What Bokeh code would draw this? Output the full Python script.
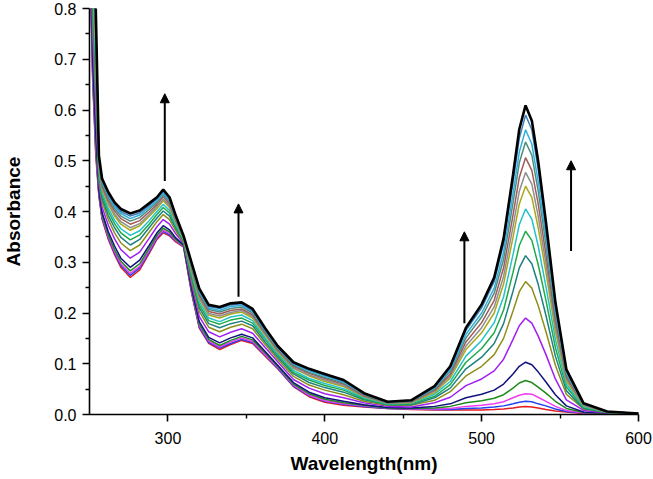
from bokeh.plotting import figure
from bokeh.models import FixedTicker, PrintfTickFormatter, Range1d, Arrow, NormalHead, ColumnDataSource
from bokeh.embed import file_html
from bokeh.resources import INLINE

wavelength = [250, 252, 254, 256, 258, 262, 266, 270, 276, 282, 288, 293, 297, 301, 305, 310, 315, 320, 326, 333,
              340, 347, 354, 362, 370, 380, 390, 400, 412, 425, 440, 455, 470, 480, 490, 500, 508, 514, 520, 524,
              528, 532, 536, 541, 547, 554, 565, 580, 600]

s00_red = [0.95, 0.66, 0.51, 0.43, 0.385, 0.345, 0.315, 0.29, 0.27, 0.285, 0.317, 0.345, 0.358, 0.352, 0.34, 0.33, 0.24, 0.17, 0.14, 0.128,
           0.138, 0.146, 0.14, 0.115, 0.09, 0.055, 0.035, 0.024, 0.018, 0.015, 0.012, 0.010, 0.009, 0.009, 0.009, 0.009, 0.010, 0.011, 0.013, 0.015,
           0.016, 0.015, 0.013, 0.010, 0.007, 0.005, 0.002, 0.002, 0.002]
s01_blue = [0.955, 0.669, 0.519, 0.432, 0.387, 0.348, 0.318, 0.294, 0.274, 0.289, 0.32, 0.348, 0.361, 0.354, 0.342, 0.331, 0.242, 0.172, 0.142, 0.131,
            0.140, 0.148, 0.142, 0.117, 0.091, 0.056, 0.037, 0.026, 0.020, 0.016, 0.012, 0.011, 0.010, 0.010, 0.012, 0.013, 0.015, 0.017, 0.021, 0.024,
            0.026, 0.025, 0.021, 0.017, 0.011, 0.006, 0.003, 0.002, 0.002]
s02_magenta = [0.959, 0.677, 0.527, 0.435, 0.390, 0.351, 0.321, 0.297, 0.278, 0.292, 0.323, 0.350, 0.363, 0.357, 0.343, 0.331, 0.244, 0.175, 0.145, 0.133,
               0.143, 0.151, 0.144, 0.118, 0.093, 0.058, 0.038, 0.027, 0.021, 0.017, 0.013, 0.011, 0.011, 0.012, 0.016, 0.018, 0.021, 0.025, 0.033, 0.038,
               0.041, 0.040, 0.034, 0.026, 0.016, 0.008, 0.003, 0.002, 0.002]
s03_green = [0.965, 0.689, 0.539, 0.438, 0.393, 0.354, 0.325, 0.302, 0.283, 0.297, 0.327, 0.353, 0.367, 0.360, 0.345, 0.332, 0.246, 0.178, 0.148, 0.136,
             0.146, 0.154, 0.147, 0.121, 0.095, 0.060, 0.041, 0.030, 0.023, 0.018, 0.013, 0.012, 0.013, 0.016, 0.023, 0.027, 0.032, 0.039, 0.052, 0.062,
             0.067, 0.063, 0.054, 0.042, 0.026, 0.012, 0.004, 0.002, 0.002]
s04_navy = [0.974, 0.706, 0.556, 0.443, 0.398, 0.360, 0.332, 0.308, 0.290, 0.304, 0.333, 0.358, 0.372, 0.364, 0.348, 0.334, 0.250, 0.183, 0.152, 0.141,
            0.151, 0.158, 0.151, 0.124, 0.097, 0.063, 0.044, 0.033, 0.026, 0.019, 0.014, 0.013, 0.016, 0.021, 0.033, 0.040, 0.048, 0.060, 0.080, 0.095,
            0.103, 0.098, 0.084, 0.064, 0.039, 0.017, 0.005, 0.003, 0.002]
s05_purple = [0.995, 0.747, 0.597, 0.454, 0.409, 0.373, 0.346, 0.325, 0.308, 0.320, 0.347, 0.370, 0.384, 0.375, 0.356, 0.337, 0.258, 0.193, 0.163, 0.153,
              0.162, 0.169, 0.160, 0.132, 0.104, 0.069, 0.052, 0.041, 0.033, 0.023, 0.016, 0.015, 0.023, 0.034, 0.057, 0.070, 0.086, 0.109, 0.148, 0.175,
              0.190, 0.180, 0.155, 0.118, 0.070, 0.029, 0.008, 0.003, 0.002]
s06_olive = [1.013, 0.782, 0.632, 0.464, 0.419, 0.384, 0.358, 0.338, 0.323, 0.334, 0.359, 0.380, 0.394, 0.384, 0.362, 0.339, 0.265, 0.203, 0.172, 0.163,
             0.172, 0.178, 0.169, 0.138, 0.109, 0.075, 0.058, 0.048, 0.039, 0.026, 0.018, 0.018, 0.028, 0.045, 0.076, 0.095, 0.118, 0.150, 0.204, 0.242,
             0.262, 0.249, 0.215, 0.163, 0.097, 0.040, 0.011, 0.004, 0.002]
s07_teal = [1.027, 0.808, 0.658, 0.471, 0.426, 0.392, 0.368, 0.349, 0.334, 0.345, 0.368, 0.387, 0.401, 0.391, 0.367, 0.341, 0.271, 0.210, 0.179, 0.171,
            0.179, 0.184, 0.175, 0.143, 0.113, 0.080, 0.063, 0.053, 0.044, 0.029, 0.019, 0.019, 0.033, 0.052, 0.090, 0.113, 0.140, 0.179, 0.243, 0.289,
            0.313, 0.297, 0.257, 0.195, 0.115, 0.047, 0.012, 0.004, 0.002]
s08_green = [1.039, 0.831, 0.681, 0.477, 0.432, 0.400, 0.376, 0.358, 0.344, 0.354, 0.375, 0.394, 0.408, 0.397, 0.371, 0.343, 0.275, 0.216, 0.185, 0.178,
             0.186, 0.190, 0.180, 0.148, 0.117, 0.083, 0.068, 0.057, 0.048, 0.031, 0.020, 0.021, 0.036, 0.059, 0.103, 0.130, 0.161, 0.206, 0.280, 0.333,
             0.361, 0.343, 0.296, 0.225, 0.132, 0.054, 0.014, 0.004, 0.002]
s09_turquoise = [1.049, 0.851, 0.701, 0.483, 0.438, 0.406, 0.383, 0.366, 0.353, 0.362, 0.382, 0.400, 0.414, 0.402, 0.374, 0.345, 0.280, 0.222, 0.190, 0.183,
                 0.192, 0.196, 0.185, 0.151, 0.120, 0.087, 0.071, 0.061, 0.051, 0.033, 0.021, 0.022, 0.040, 0.065, 0.115, 0.146, 0.181, 0.232, 0.315, 0.374,
                 0.405, 0.385, 0.333, 0.252, 0.148, 0.060, 0.015, 0.005, 0.002]
s10_yellowolive = [1.061, 0.875, 0.725, 0.489, 0.444, 0.414, 0.391, 0.375, 0.363, 0.372, 0.390, 0.406, 0.421, 0.408, 0.379, 0.346, 0.284, 0.228, 0.196, 0.190,
                   0.198, 0.202, 0.190, 0.156, 0.123, 0.091, 0.076, 0.065, 0.055, 0.035, 0.022, 0.023, 0.043, 0.072, 0.128, 0.161, 0.200, 0.257, 0.349, 0.415,
                   0.450, 0.428, 0.369, 0.280, 0.164, 0.066, 0.017, 0.005, 0.002]
s11_gray = [1.067, 0.886, 0.736, 0.492, 0.447, 0.418, 0.395, 0.380, 0.368, 0.376, 0.394, 0.410, 0.424, 0.411, 0.381, 0.347, 0.287, 0.231, 0.199, 0.194,
            0.201, 0.205, 0.193, 0.158, 0.125, 0.092, 0.078, 0.068, 0.057, 0.036, 0.022, 0.024, 0.046, 0.076, 0.135, 0.171, 0.212, 0.272, 0.370, 0.440,
            0.477, 0.454, 0.392, 0.297, 0.174, 0.070, 0.018, 0.005, 0.002]
s12_brown = [1.075, 0.901, 0.751, 0.496, 0.451, 0.422, 0.401, 0.386, 0.375, 0.382, 0.399, 0.414, 0.429, 0.415, 0.383, 0.348, 0.290, 0.235, 0.203, 0.198,
             0.205, 0.208, 0.196, 0.161, 0.127, 0.095, 0.081, 0.071, 0.060, 0.037, 0.023, 0.025, 0.048, 0.080, 0.143, 0.181, 0.225, 0.289, 0.393, 0.467,
             0.506, 0.481, 0.416, 0.315, 0.185, 0.074, 0.019, 0.005, 0.002]
s13_tealgray = [1.082, 0.915, 0.765, 0.500, 0.455, 0.427, 0.406, 0.391, 0.381, 0.388, 0.404, 0.418, 0.433, 0.419, 0.386, 0.349, 0.293, 0.239, 0.207, 0.202,
                0.209, 0.212, 0.200, 0.163, 0.130, 0.097, 0.083, 0.073, 0.062, 0.039, 0.023, 0.026, 0.050, 0.085, 0.151, 0.192, 0.239, 0.306, 0.417, 0.496,
                0.537, 0.511, 0.441, 0.335, 0.196, 0.079, 0.020, 0.006, 0.002]
s14_lightblue = [1.088, 0.927, 0.777, 0.504, 0.459, 0.431, 0.410, 0.396, 0.386, 0.393, 0.408, 0.421, 0.436, 0.422, 0.388, 0.350, 0.295, 0.242, 0.210, 0.205,
                 0.213, 0.215, 0.203, 0.166, 0.131, 0.099, 0.086, 0.076, 0.064, 0.040, 0.024, 0.027, 0.052, 0.088, 0.158, 0.200, 0.249, 0.320, 0.435, 0.517,
                 0.561, 0.533, 0.460, 0.349, 0.205, 0.082, 0.020, 0.006, 0.002]
s15_steel = [1.094, 0.938, 0.788, 0.507, 0.462, 0.434, 0.414, 0.400, 0.391, 0.397, 0.412, 0.425, 0.440, 0.425, 0.390, 0.351, 0.298, 0.245, 0.213, 0.209,
             0.216, 0.218, 0.205, 0.168, 0.133, 0.101, 0.088, 0.078, 0.066, 0.041, 0.025, 0.027, 0.054, 0.092, 0.166, 0.210, 0.262, 0.336, 0.457, 0.544,
             0.590, 0.561, 0.484, 0.367, 0.215, 0.086, 0.021, 0.006, 0.002]
s16_black = [1.10, 0.95, 0.80, 0.51, 0.465, 0.438, 0.418, 0.405, 0.396, 0.402, 0.416, 0.428, 0.443, 0.428, 0.392, 0.352, 0.30, 0.248, 0.216, 0.212,
             0.219, 0.221, 0.208, 0.17, 0.135, 0.103, 0.09, 0.08, 0.068, 0.042, 0.025, 0.028, 0.056, 0.095, 0.171, 0.217, 0.270, 0.347, 0.472, 0.562,
             0.609, 0.579, 0.500, 0.379, 0.222, 0.089, 0.022, 0.006, 0.002]

series = [s00_red, s01_blue, s02_magenta, s03_green, s04_navy, s05_purple, s06_olive, s07_teal, s08_green,
          s09_turquoise, s10_yellowolive, s11_gray, s12_brown, s13_tealgray, s14_lightblue, s15_steel, s16_black]
colors = ["#E41A1C", "#2244EE", "#F03CF0", "#1E8A1E", "#12127E", "#A020F0", "#8E8E1A", "#1E8080", "#1EAA46",
          "#22C2C8", "#A8A818", "#8E8E8E", "#A05A5A", "#4E8C7C", "#32AEDA", "#3A7EBE", "#000000"]

x_ticks = [300, 400, 500, 600]
x_minor = [350, 450, 550]
y_ticks = [0.0, 0.1, 0.2, 0.3, 0.4, 0.5, 0.6, 0.7, 0.8]
y_minor = [0.05, 0.15, 0.25, 0.35, 0.45, 0.55, 0.65, 0.75]

arrow_x = [298, 345, 489, 557]
arrow_y_start = [0.46, 0.232, 0.18, 0.322]
arrow_y_end = [0.632, 0.415, 0.36, 0.50]

p = figure(width=653, height=479, output_backend="svg", toolbar_location=None,
           x_range=Range1d(250, 600), y_range=Range1d(0, 0.8),
           min_border_left=84, min_border_right=15, min_border_top=8, min_border_bottom=65)
p.outline_line_color = None
p.xgrid.visible = False
p.ygrid.visible = False
p.background_fill_color = "white"
p.border_fill_color = "white"

for s, c in zip(series, colors):
    lw = 2.6 if c == "#000000" else 1.5
    p.line(wavelength, s, line_color=c, line_width=lw)

src = ColumnDataSource(dict(x0=arrow_x, y0=arrow_y_start, x1=arrow_x, y1=arrow_y_end))
p.add_layout(Arrow(end=NormalHead(size=9, fill_color="black", line_color="black"),
                   x_start="x0", y_start="y0", x_end="x1", y_end="y1", source=src,
                   line_color="black", line_width=2))

for ax in (p.xaxis[0], p.yaxis[0]):
    ax.axis_line_width = 1.6
    ax.axis_line_color = "black"
    ax.major_tick_line_width = 1.6
    ax.minor_tick_line_width = 1.4
    ax.major_tick_out = 7
    ax.major_tick_in = 0
    ax.minor_tick_out = 4
    ax.minor_tick_in = 0
    ax.major_label_text_font = "Liberation Sans"
    ax.major_label_text_font_size = "16px"
    ax.major_label_text_color = "black"
    ax.axis_label_text_font = "Liberation Sans"
    ax.axis_label_text_font_size = "19px"
    ax.axis_label_text_font_style = "bold"
    ax.axis_label_text_color = "black"

p.xaxis[0].major_label_standoff = 10
p.yaxis[0].major_label_standoff = 6
p.xaxis[0].ticker = FixedTicker(ticks=x_ticks, minor_ticks=x_minor)
p.yaxis[0].ticker = FixedTicker(ticks=y_ticks, minor_ticks=y_minor)
p.yaxis[0].formatter = PrintfTickFormatter(format="%.1f")
p.xaxis[0].axis_label = "Wavelength(nm)"
p.yaxis[0].axis_label = "Absorbance"
p.xaxis[0].axis_label_standoff = 6
p.yaxis[0].axis_label_standoff = 27

open("out.html", "w").write(file_html(p, INLINE))
